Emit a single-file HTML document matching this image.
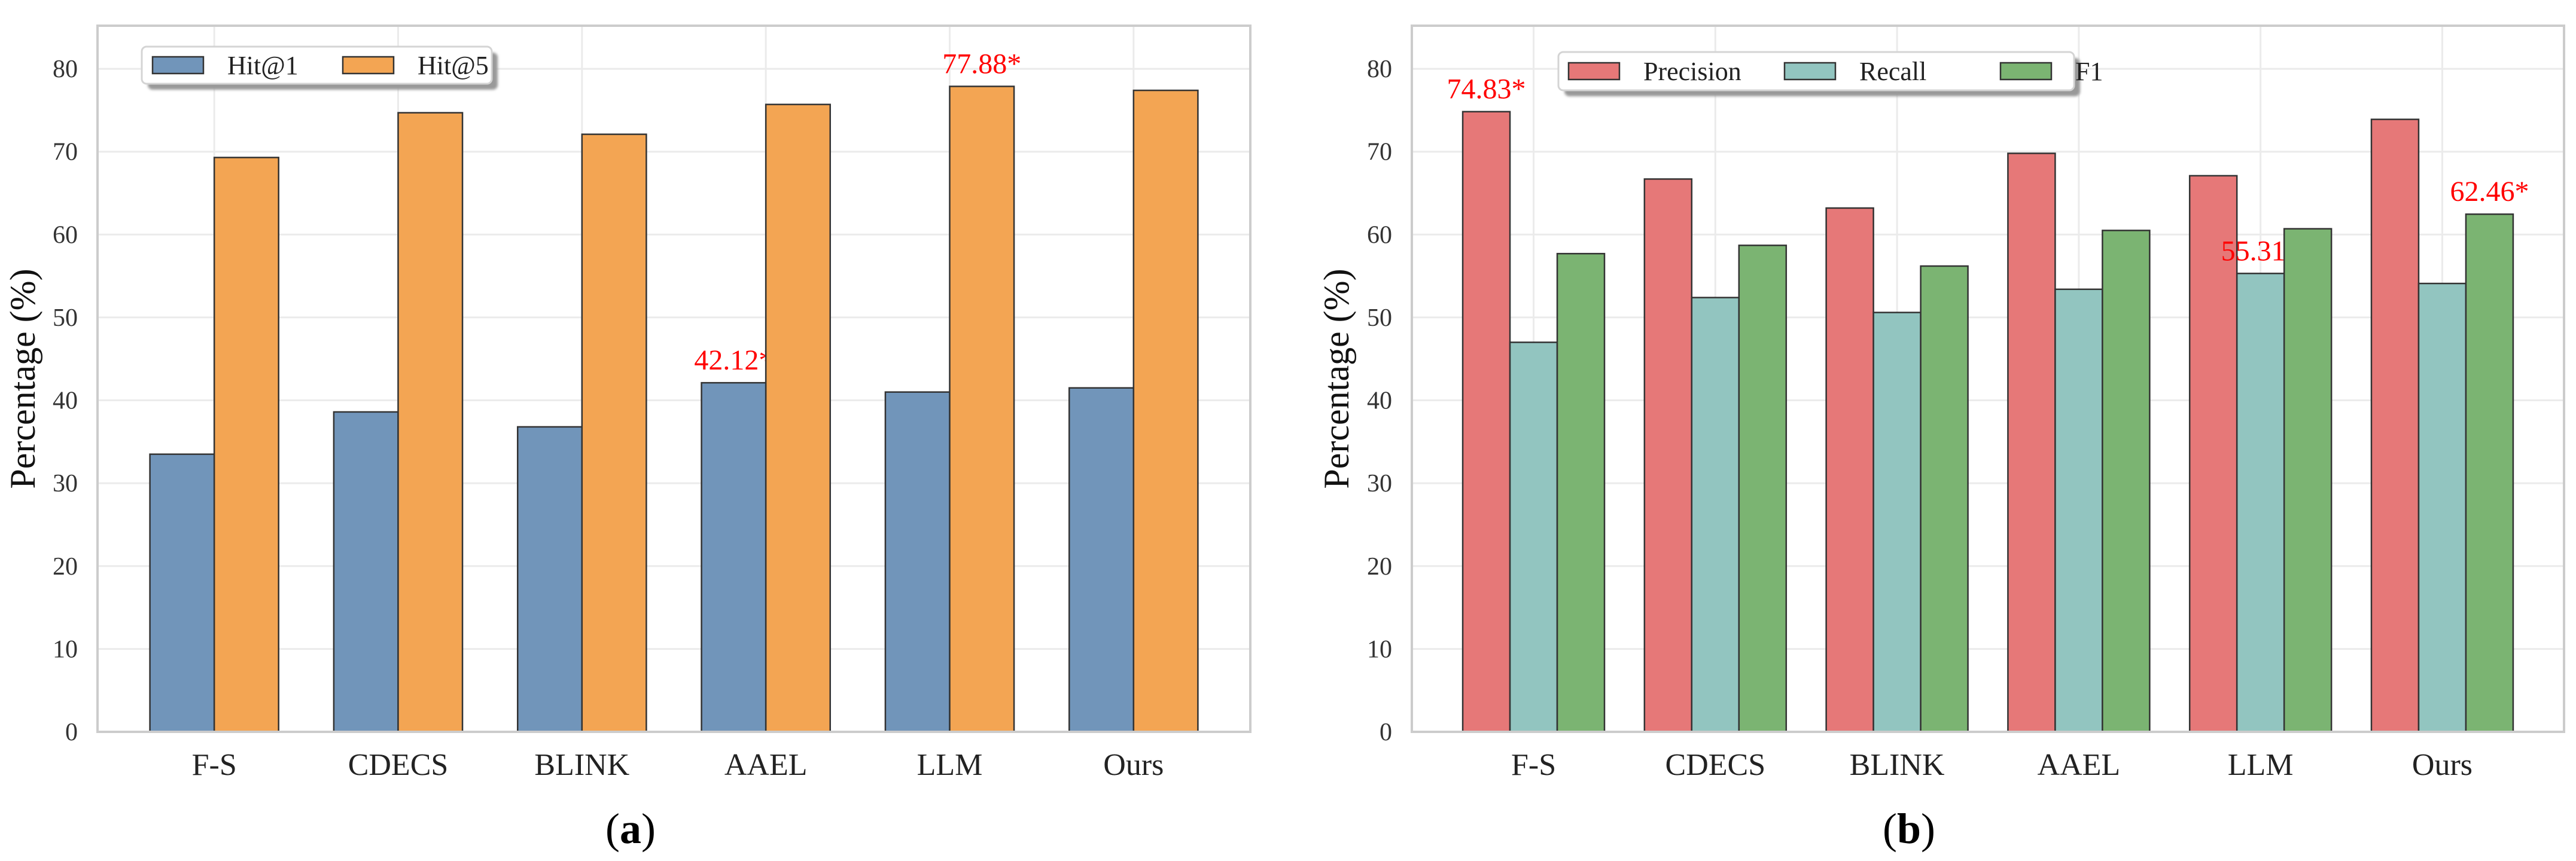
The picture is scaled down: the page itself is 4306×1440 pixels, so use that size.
<!DOCTYPE html>
<html><head><meta charset="utf-8"><style>
html,body{margin:0;padding:0;background:#fff;}
svg{display:block;}
svg text{font-family:"Liberation Serif","DejaVu Serif",serif;}
</style></head><body>
<svg id="fig" width="4306" height="1440" viewBox="0 0 4306 1440" xmlns="http://www.w3.org/2000/svg" font-family="Liberation Serif, DejaVu Serif, serif">
<defs><filter id="sh" x="-5%" y="-20%" width="115%" height="160%"><feGaussianBlur stdDeviation="2"/></filter></defs>
</svg>
<script>
const categories = ["F-S","CDECS","BLINK","AAEL","LLM","Ours"];
const yTicks = [0,10,20,30,40,50,60,70,80];
const hit1 = [33.5,38.6,36.8,42.12,41.0,41.5];
const hit5 = [69.3,74.7,72.1,75.7,77.88,77.4];
const precision = [74.83,66.7,63.2,69.8,67.1,73.9];
const recall = [47.0,52.4,50.6,53.4,55.31,54.1];
const f1 = [57.7,58.7,56.2,60.5,60.7,62.46];

const NS="http://www.w3.org/2000/svg";
const svg=document.getElementById('fig');
const FF='Liberation Serif, DejaVu Serif, serif';
function mk(tag,attrs,parent){const e=document.createElementNS(NS,tag);for(const k in attrs)e.setAttribute(k,attrs[k]);if(tag==='text')e.setAttribute('font-family',FF);(parent||svg).appendChild(e);return e;}

function chart(opt){
  const g=mk('g',{});
  
  
  const L=opt.left,R=opt.right,T=43,B=1224,ymax=85.2;
  const n=categories.length;
  const xmin=-opt.margin,xmax=n-1+opt.margin;
  const X=v=>L+(v-xmin)/(xmax-xmin)*(R-L);
  const Y=v=>B-v/ymax*(B-T);
  yTicks.forEach(t=>{
    const l=mk('line',{x1:L,x2:R,y1:Y(t),y2:Y(t),stroke:'#ebebeb','stroke-width':3},g);
    
    
    const tx=mk('text',{x:L-33,y:Y(t)+14,'text-anchor':'end','font-size':42,fill:'#333'},g);
    tx.textContent=t;
    
    
  });
  categories.forEach((c,i)=>{
    const l=mk('line',{x1:X(i),x2:X(i),y1:T,y2:B,stroke:'#ebebeb','stroke-width':3},g);
    
    
    const tx=mk('text',{x:X(i),y:1296,'text-anchor':'middle','font-size':52,fill:'#222'},g);
    tx.textContent=c;
    
    
  });
  const ns=opt.series.length,w=opt.width;
  opt.series.forEach((s,si)=>{
    s.values.forEach((v,i)=>{
      const cx=i+(si-(ns-1)/2)*w;
      const r=mk('rect',{x:X(cx-w/2),y:Y(v),width:X(w)-X(0),height:B-Y(v),fill:s.color,stroke:'#333','stroke-width':2.5},g);
      
      
      if(s.star===i){
        const a=mk('text',{x:X(cx),y:Y(v)-22,'text-anchor':'middle','font-size':48,fill:'#ff0000'},g);
        a.textContent=v.toFixed(2)+'*';
        
        
      }
    });
  });
  const f=mk('rect',{x:L,y:T,width:R-L,height:B-T,fill:'none',stroke:'#cccccc','stroke-width':4},g);
  
  
  const yt=mk('text',{x:0,y:0,'text-anchor':'middle','font-size':60,fill:'#111',transform:`translate(${opt.ylabX},${(T+B)/2}) rotate(-90)`},g);
  yt.textContent='Percentage (%)';
  
  
  const lg=mk('g',{},g);
  
  
  const [lx,ly,lw,lh]=opt.legend;
  mk('rect',{x:lx+10,y:ly+10,width:lw,height:lh,rx:8,fill:'#999',filter:'url(#sh)'},lg);
  mk('rect',{x:lx,y:ly,width:lw,height:lh,rx:8,fill:'#fff',stroke:'#d4d4d4','stroke-width':3},lg);
  opt.series.forEach((s,si)=>{
    const ex=lx+opt.legStart+si*opt.legStep;
    const e=mk('g',{},lg);
    
    
    mk('rect',{x:ex,y:ly+lh/2-14,width:85,height:28,fill:s.color,stroke:'#333','stroke-width':2.5},e);
    const t=mk('text',{x:ex+125,y:ly+lh/2+15,'font-size':44,fill:'#222'},e);
    t.textContent=s.label;
  });
  const pl=mk('text',{x:opt.panelX,y:1410,'text-anchor':'middle','font-size':72,fill:'#000'},g);
  pl.innerHTML='(<tspan font-weight="bold">'+opt.panel+'</tspan>)';
  
  
}

chart({name:'chart-a-hit-rates',left:163,right:2090,margin:0.635,width:0.35,ylabX:58,
  legend:[237,78,585,62],legStart:18,legStep:318,panelX:1054,panel:'a',
  series:[{key:'hit1',label:'Hit@1',values:hit1,color:'#7195ba',star:3},
          {key:'hit5',label:'Hit@5',values:hit5,color:'#f3a553',star:4}]});
chart({name:'chart-b-prf',left:2360,right:4286,margin:0.67,width:0.26,ylabX:2254,
  legend:[2605,87,862,64],legStart:17,legStep:361,panelX:3191,panel:'b',
  series:[{key:'precision',label:'Precision',values:precision,color:'#e67878',star:0},
          {key:'recall',label:'Recall',values:recall,color:'#92c5c0',star:4},
          {key:'f1',label:'F1',values:f1,color:'#7bb472',star:5}]});
</script>
</body></html>
